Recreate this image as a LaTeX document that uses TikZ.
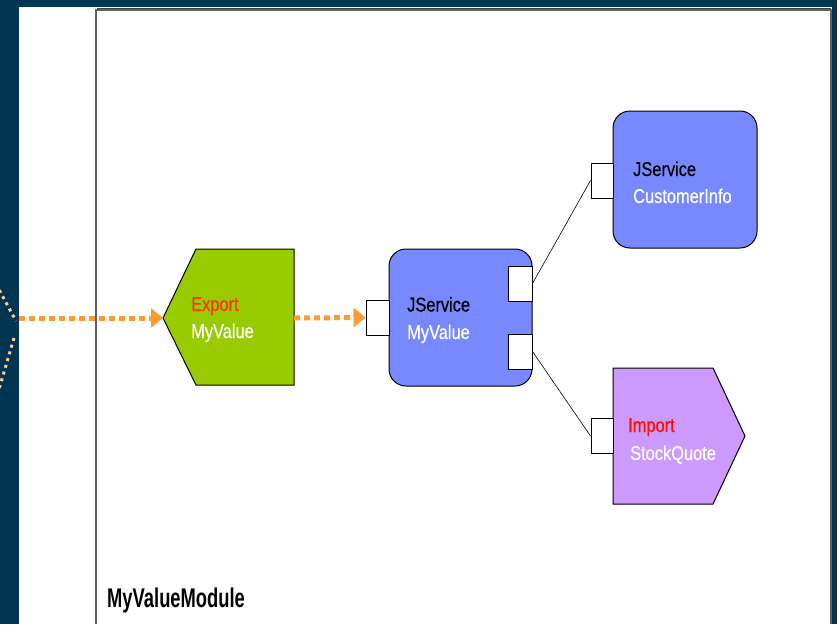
\documentclass[tikz,border=0pt]{standalone}
\usepackage{fontspec}
\setmainfont{Liberation Sans}
\newfontfamily\labfont[FakeStretch=0.82,FakeBold=0.4]{Liberation Sans}
\newfontfamily\modfont[FakeStretch=0.68]{Liberation Sans}
\usetikzlibrary{arrows.meta}
\definecolor{navy}{RGB}{0,54,82}
\definecolor{framegray}{RGB}{96,96,96}
\definecolor{wireorange}{RGB}{255,153,51}
\definecolor{expgreen}{RGB}{153,204,0}
\definecolor{svcblue}{RGB}{120,136,255}
\definecolor{imppurple}{RGB}{204,153,255}
\definecolor{kindred}{RGB}{255,51,0}
\definecolor{peach}{RGB}{255,204,153}
\tikzset{
  svcbox/.style={draw=black, line width=1pt, fill=svcblue, rounded corners=17pt,
    rectangle, inner sep=0pt, minimum width=143pt, minimum height=137pt},
  portbox/.style={draw=black, line width=1pt, fill=white, rectangle, inner sep=0pt,
    minimum width=23pt, minimum height=35pt},
  shapeline/.style={draw=black, line width=1pt},
  kindtext/.style={anchor=base west, inner sep=0pt, text=kindred, font=\labfont\fontsize{20}{20}\selectfont},
  nametext/.style={anchor=base west, inner sep=0pt, text=white, font=\labfont\fontsize{20}{20}\selectfont},
  typetext/.style={anchor=base west, inner sep=0pt, text=black, font=\labfont\fontsize{20}{20}\selectfont},
  wire/.style={wireorange, line width=5pt, dash pattern=on 6pt off 4pt,
    -{Triangle[length=12pt,width=19pt]}},
  refline/.style={draw=black, line width=0.6pt},
}
\begin{document}
\begin{tikzpicture}[x=1pt,y=-1pt]
\useasboundingbox (0,0) rectangle (837,624);
% background
\fill[navy] (0,0) rectangle (837,624);
\fill[white] (19,7) rectangle (832,624);
% dotted peach chevron on the left
\draw[peach, line width=3pt, dash pattern=on 3pt off 4pt] (-4,284) -- (16,321);
\draw[peach, line width=3pt, dash pattern=on 3pt off 4pt] (14,338) -- (-3,396);
% module frame
\draw[framegray, line width=2.5pt] (96,624) -- (96,10) -- (831,10) -- (831,624);
\draw[black!75, line width=1pt] (97,8.6) -- (831,8.6);
\node[anchor=base west, inner sep=0pt, font=\modfont\bfseries\fontsize{27}{28}\selectfont] (modlabel) at (107,607) {MyValueModule};

% Export MyValue
\path[shapeline, fill=expgreen] (163,318) -- (196,249) -- (294,249) -- (294,385) -- (196,385) -- cycle;
\coordinate (exptip) at (163,318);
\coordinate (expright) at (294,318);
\node[kindtext] (exportkind) at (191,311) {Export};
\node[nametext] (exportname) at (191,338) {MyValue};

% JService MyValue
\node[svcbox] (jsmv) at (460.5,317.5) {};
\node[portbox] (jsmvin) at (377.5,317.5) {};
\node[portbox, minimum width=24pt] (jsmvout1) at (520,283.5) {};
\node[portbox, minimum width=24pt] (jsmvout2) at (520,351.5) {};
\node[typetext] (jsmvtype) at (407,311.5) {JService};
\node[nametext] (jsmvname) at (407,339) {MyValue};

% JService CustomerInfo
\node[svcbox, minimum width=144pt] (jsci) at (685,179.5) {};
\node[portbox, minimum width=22pt] (jsciin) at (602,180.5) {};
\node[typetext] (jscitype) at (633,176) {JService};
\node[nametext] (jsciname) at (633,203) {CustomerInfo};

% Import StockQuote
\path[shapeline, fill=imppurple] (613,368) -- (713,368) -- (745,436) -- (713,504) -- (613,504) -- cycle;
\node[portbox, minimum width=22pt] (impin) at (602,436) {};
\node[kindtext, text=red!90!orange] (impkind) at (628,432) {Import};
\node[nametext] (impname) at (630,460) {StockQuote};

% wires
\coordinate (wirestart) at (19,318);
\draw[wire] (wirestart) -- (exptip);
\draw[wire] (expright) -- (jsmvin.west);
\draw[refline] (jsmvout1.east) -- (jsciin.west);
\draw[refline] (jsmvout2.east) -- (impin.west);
\end{tikzpicture}
\end{document}
